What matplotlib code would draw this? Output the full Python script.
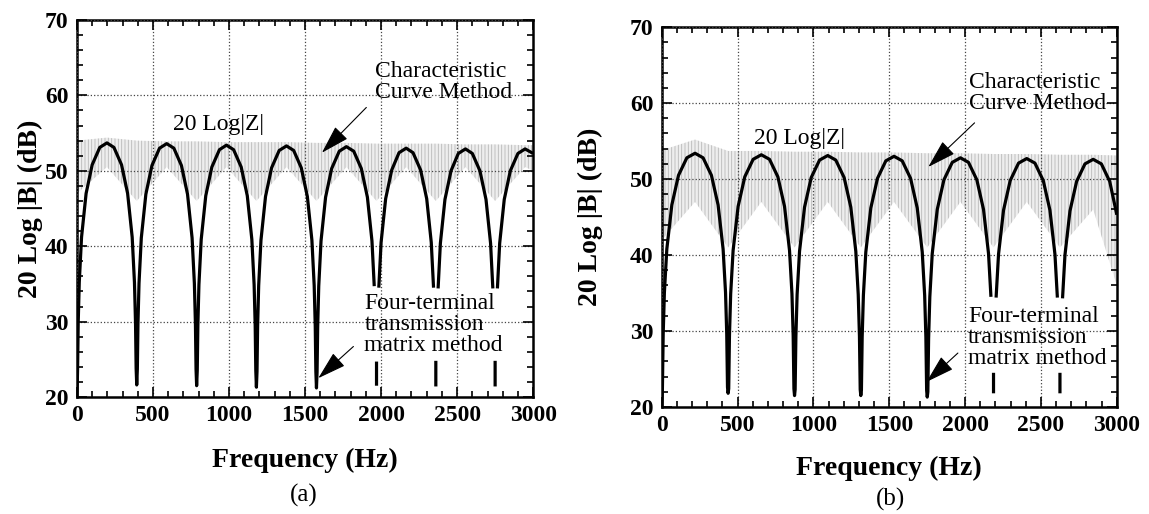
import matplotlib.pyplot as plt
import numpy as np
from matplotlib.ticker import MultipleLocator

plt.rcParams['font.family'] = ['Liberation Serif', 'DejaVu Serif']
plt.rcParams['hatch.linewidth'] = 0.6

nan = np.nan

# (a) 20 Log|Z| curve (nan = gap in the drawn line)
freq_a = [0, 4, 8, 15, 30, 60, 100, 150, 197, 243, 293, 333, 363, 378, 385, 389, 393,
          397, 401, 408, 423, 453, 493, 543, 590, 637, 687, 727, 757, 772, 779, 783, 787,
          791, 795, 802, 817, 847, 887, 937, 983, 1030, 1080, 1120, 1150, 1165, 1172, 1176, 1180,
          1184, 1188, 1195, 1210, 1240, 1280, 1330, 1378, 1425, 1475, 1515, 1545, 1560, 1567, 1571, 1575,
          1579, 1583, 1590, 1605, 1635, 1675, 1725, 1772, 1820, 1870, 1910, 1940, 1955, nan, 1970, 1970, nan,
          1985, 2000, 2030, 2070, 2118, 2165, 2210, 2260, 2300, 2330, 2345, nan, 2360, 2360, nan,
          2375, 2390, 2420, 2460, 2508, 2555, 2600, 2650, 2690, 2720, 2735, nan, 2750, 2750, nan,
          2765, 2780, 2810, 2850, 2900, 2947, 3000]
db_a = [20.0, 23.8, 29.8, 35.2, 41.2, 47.0, 50.8, 53.1, 53.7, 53.1, 50.8, 47.0, 41.2, 35.2, 29.8, 23.8, 21.6,
        23.7, 29.7, 35.1, 41.1, 46.9, 50.7, 53.0, 53.6, 53.0, 50.7, 46.9, 41.1, 35.1, 29.7, 23.7, 21.5,
        23.5, 29.5, 34.9, 40.9, 46.7, 50.5, 52.8, 53.4, 52.8, 50.5, 46.7, 40.9, 34.9, 29.5, 23.5, 21.3,
        23.4, 29.4, 34.8, 40.8, 46.6, 50.4, 52.7, 53.3, 52.7, 50.4, 46.6, 40.8, 34.8, 29.4, 23.4, 21.2,
        23.3, 29.3, 34.7, 40.7, 46.5, 50.3, 52.6, 53.2, 52.6, 50.3, 46.5, 40.7, 34.7, nan, 21.5, 24.7, nan,
        34.5, 40.5, 46.3, 50.1, 52.4, 53.0, 52.4, 50.1, 46.3, 40.5, 34.5, nan, 21.4, 24.8, nan,
        34.4, 40.4, 46.2, 50.0, 52.3, 52.9, 52.3, 50.0, 46.2, 40.4, 34.4, nan, 21.4, 24.8, nan,
        34.4, 40.4, 46.2, 50.0, 52.3, 52.9, 52.3]

# (b) 20 Log|Z| curve
freq_b = [0, 4, 9, 17, 33, 66, 110, 165, 219, 272, 327, 371, 404, 420, 428, 433, 437,
          441, 446, 454, 470, 503, 547, 602, 656, 710, 765, 809, 842, 858, 866, 871, 875,
          879, 884, 892, 908, 941, 985, 1040, 1094, 1147, 1202, 1246, 1279, 1295, 1303, 1308, 1312,
          1316, 1321, 1329, 1345, 1378, 1422, 1477, 1531, 1585, 1640, 1684, 1717, 1733, 1741, 1746, 1750,
          1754, 1759, 1767, 1783, 1816, 1860, 1915, 1969, 2022, 2077, 2121, 2154, 2170, nan, 2187, 2187, nan,
          2204, 2220, 2253, 2297, 2352, 2406, 2460, 2515, 2559, 2592, 2608, nan, 2625, 2625, nan,
          2642, 2658, 2691, 2735, 2790, 2844, 2898, 2953, 3000]
db_b = [20.0, 22.6, 29.6, 35.1, 40.8, 46.6, 50.5, 52.8, 53.4, 52.8, 50.5, 46.6, 40.8, 35.1, 29.6, 22.6, 21.8,
        22.4, 29.4, 34.9, 40.6, 46.4, 50.3, 52.6, 53.2, 52.6, 50.3, 46.4, 40.6, 34.9, 29.4, 22.4, 21.5,
        22.3, 29.3, 34.8, 40.5, 46.3, 50.2, 52.5, 53.1, 52.5, 50.2, 46.3, 40.5, 34.8, 29.3, 22.3, 21.5,
        22.2, 29.2, 34.7, 40.4, 46.2, 50.1, 52.4, 53.0, 52.4, 50.1, 46.2, 40.4, 34.7, 29.2, 22.2, 21.3,
        22.0, 29.0, 34.5, 40.2, 46.0, 49.9, 52.2, 52.8, 52.2, 49.9, 46.0, 40.2, 34.5, nan, 21.8, 24.5, nan,
        34.4, 40.1, 45.9, 49.8, 52.1, 52.7, 52.1, 49.8, 45.9, 40.1, 34.4, nan, 21.8, 24.5, nan,
        34.3, 40.0, 45.8, 49.7, 52.0, 52.6, 52.0, 49.7, 45.3]

# grey band of the characteristic curve method (lower / upper edge)
shade_f_a = [0, 197, 393, 590, 787, 983, 1180, 1378, 1575, 1772, 1970, 2165, 2360, 2555, 2750, 2947, 3000]
shade_lo_a = [47, 50.5, 46, 50.5, 46, 50.5, 46, 50.5, 46, 50.5, 46, 50.5, 46, 50.5, 46, 50.5, 50]
shade_hi_a = [54.0, 54.4, 54.0, 53.9, 53.9, 53.8, 53.8, 53.8, 53.7, 53.7, 53.6, 53.6, 53.6, 53.5, 53.5, 53.4, 53.4]

shade_f_b = [0, 219, 437, 656, 875, 1094, 1312, 1531, 1750, 1969, 2187, 2406, 2625, 2844, 3000]
shade_lo_b = [42, 47, 41, 47, 41, 47, 41, 47, 41, 47, 41, 47, 41, 46, 36]
shade_hi_b = [53.8, 55.2, 53.7, 53.7, 53.6, 53.6, 53.5, 53.5, 53.4, 53.4, 53.3, 53.3, 53.2, 53.2, 53.1]

panels = [
    dict(rect=[0.067, 0.2276, 0.397, 0.7335], f=freq_a, db=db_a,
         sf=shade_f_a, slo=shade_lo_a, shi=shade_hi_a, tag='(a)', tag_xy=(0.264, 0.036),
         ylab_x=-0.103, xlab_y=-0.167,
         z_xy=(930, 56.2), char_xy=(1960, 61.75), char_arrow=((1611, 52.4), (1903, 58.4)),
         four_xy=(1890, 29.6), four_arrow=((1587, 22.5), (1818, 26.7))),
    dict(rect=[0.576, 0.2082, 0.396, 0.739], f=freq_b, db=db_b,
         sf=shade_f_b, slo=shade_lo_b, shi=shade_hi_b, tag='(b)', tag_xy=(0.775, 0.029),
         ylab_x=-0.156, xlab_y=-0.163,
         z_xy=(910, 55.4), char_xy=(2025, 61.35), char_arrow=((1757, 51.6), (2062, 57.4)),
         four_xy=(2020, 29.1), four_arrow=((1745, 23.3), (1952, 27.1))),
]

fig = plt.figure(figsize=(11.49, 5.14), dpi=100)

for p in panels:
    ax = fig.add_axes(p['rect'])
    ax.fill_between(p['sf'], p['slo'], p['shi'], facecolor='#eeeeee', edgecolor='#b8b8b8',
                    hatch='|||||', linewidth=0, zorder=1)
    ax.plot(p['f'], p['db'], color='black', lw=2.3, zorder=3, solid_capstyle='butt')

    ax.set_xlim(0, 3000)
    ax.set_ylim(20, 70)
    ax.xaxis.set_major_locator(MultipleLocator(500))
    ax.xaxis.set_minor_locator(MultipleLocator(100))
    ax.yaxis.set_major_locator(MultipleLocator(10))
    ax.yaxis.set_minor_locator(MultipleLocator(2))
    ax.tick_params(which='both', direction='in', top=True, right=True, width=1.2)
    ax.tick_params(which='major', length=7, labelsize=17, pad=6)
    ax.tick_params(which='minor', length=4)
    for lbl in ax.get_xticklabels() + ax.get_yticklabels():
        lbl.set_fontweight('bold')
    ax.grid(True, which='major', linestyle=':', color='#444444', lw=0.9)
    ax.set_axisbelow(False)
    for s in ax.spines.values():
        s.set_linewidth(1.8)

    ax.set_xlabel('Frequency (Hz)', fontsize=20, fontweight='bold')
    ax.xaxis.set_label_coords(0.5, p['xlab_y'])
    ax.xaxis.label.set_va('center')
    ax.set_ylabel('20 Log |B| (dB)', fontsize=20, fontweight='bold')
    ax.yaxis.set_label_coords(p['ylab_x'], 0.5)
    ax.yaxis.label.set_va('center')

    ax.text(p['z_xy'][0], p['z_xy'][1], '20 Log|Z|', fontsize=17, ha='center', va='center', zorder=5)
    ax.text(p['char_xy'][0], p['char_xy'][1], 'Characteristic\nCurve Method', fontsize=17,
            ha='left', va='center', linespacing=1.0, zorder=5)
    ax.text(p['four_xy'][0], p['four_xy'][1], 'Four-terminal\ntransmission\nmatrix method', fontsize=17,
            ha='left', va='center', linespacing=1.0, zorder=5)
    for head, tail in (p['char_arrow'], p['four_arrow']):
        ax.annotate('', xy=head, xytext=tail, zorder=5,
                    arrowprops=dict(arrowstyle='-|>,head_length=1.0,head_width=0.3', color='black',
                                    lw=0.8, mutation_scale=18, shrinkA=0, shrinkB=0))

    fig.text(p['tag_xy'][0], p['tag_xy'][1], p['tag'], fontsize=18, ha='center', va='center')

fig.savefig('out.png', dpi=100)
